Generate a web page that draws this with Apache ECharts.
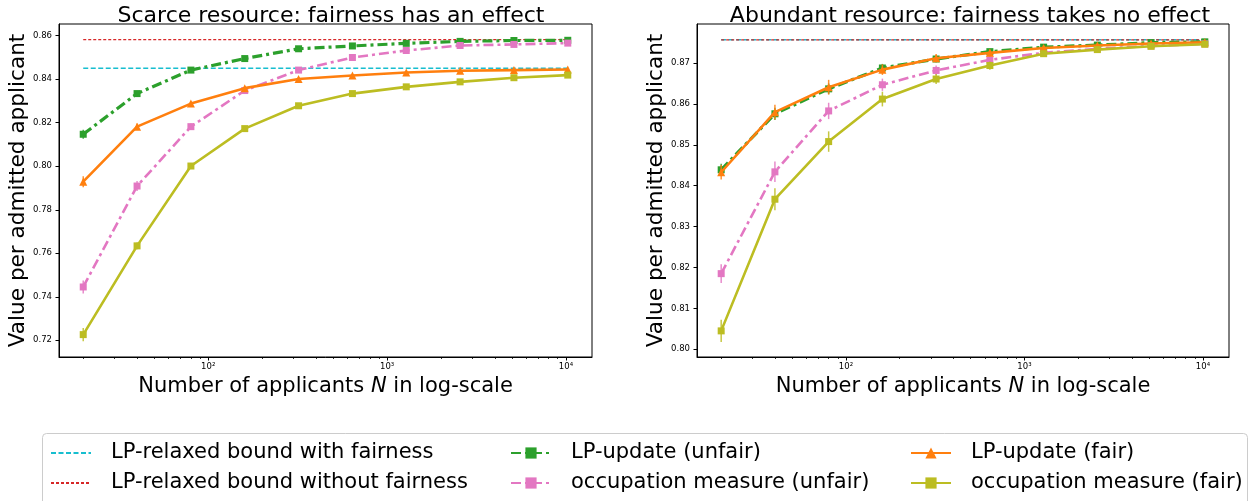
<!DOCTYPE html>
<html>
<head>
<meta charset="utf-8">
<script src="https://cdn.jsdelivr.net/npm/echarts@6/dist/echarts.min.js"></script>
<style>
html,body{margin:0;padding:0;background:#fff;}
#c{width:1250px;height:501px;}
</style>
</head>
<body>
<div id="c"></div>
<script>
// ---------- data ----------
const N = [20, 40, 80, 160, 320, 640, 1280, 2560, 5120, 10240];
const xMajorTicks = [100, 1000, 10000];
const xMinorTicks = [20, 30, 40, 50, 60, 70, 80, 90, 200, 300, 400, 500, 600, 700, 800, 900, 2000, 3000, 4000, 5000, 6000, 7000, 8000, 9000];
const yTicksScarce = [0.72, 0.74, 0.76, 0.78, 0.80, 0.82, 0.84, 0.86];
const yTicksAbundant = [0.80, 0.81, 0.82, 0.83, 0.84, 0.85, 0.86, 0.87];

const seriesNames = ['LP-relaxed bound with fairness', 'LP-relaxed bound without fairness', 'LP-update (unfair)', 'occupation measure (unfair)', 'LP-update (fair)', 'occupation measure (fair)'];

// Scarce resource panel
const scarceBoundFair = 0.845;
const scarceBoundUnfair = 0.8582;
const scarceLPUnfair  = [0.8147, 0.8334, 0.8442, 0.8495, 0.8540, 0.8553, 0.8565, 0.8574, 0.8578, 0.8579];
const scarceLPFair    = [0.7929, 0.8182, 0.8288, 0.8359, 0.8401, 0.8417, 0.8431, 0.8439, 0.8442, 0.8445];
const scarceOccUnfair = [0.7445, 0.7909, 0.8182, 0.8348, 0.8442, 0.8500, 0.8532, 0.8555, 0.8560, 0.8566];
const scarceOccFair   = [0.7226, 0.7634, 0.8001, 0.8173, 0.8278, 0.8334, 0.8365, 0.8388, 0.8407, 0.8419];
const scarceErrLPUnfair  = [0.0021, 0.0012, 0.0010, 0.0008, 0.0008, 0.0007, 0.0006, 0.0006, 0.0005, 0.0005];
const scarceErrLPFair    = [0.0025, 0.0015, 0.0010, 0.0008, 0.0008, 0.0007, 0.0006, 0.0005, 0.0005, 0.0005];
const scarceErrOccUnfair = [0.0030, 0.0023, 0.0015, 0.0012, 0.0010, 0.0008, 0.0007, 0.0006, 0.0006, 0.0005];
const scarceErrOccFair   = [0.0030, 0.0015, 0.0010, 0.0008, 0.0007, 0.0006, 0.0005, 0.0005, 0.0005, 0.0005];

// Abundant resource panel
const abundantBoundFair = 0.8757;
const abundantBoundUnfair = 0.8757;
const abundantLPUnfair  = [0.8439, 0.8576, 0.8637, 0.8688, 0.8710, 0.8728, 0.8739, 0.8744, 0.8750, 0.8752];
const abundantLPFair    = [0.8433, 0.8580, 0.8641, 0.8684, 0.8712, 0.8725, 0.8737, 0.8743, 0.8748, 0.8751];
const abundantOccUnfair = [0.8185, 0.8434, 0.8583, 0.8647, 0.8682, 0.8708, 0.8725, 0.8735, 0.8742, 0.8747];
const abundantOccFair   = [0.8045, 0.8367, 0.8508, 0.8612, 0.8661, 0.8694, 0.8723, 0.8733, 0.8741, 0.8746];
const abundantErrLPUnfair  = [0.0015, 0.0015, 0.0013, 0.0010, 0.0008, 0.0006, 0.0005, 0.0004, 0.0004, 0.0003];
const abundantErrLPFair    = [0.0018, 0.0018, 0.0018, 0.0013, 0.0010, 0.0008, 0.0006, 0.0005, 0.0004, 0.0003];
const abundantErrOccUnfair = [0.0023, 0.0025, 0.0020, 0.0015, 0.0012, 0.0009, 0.0007, 0.0005, 0.0004, 0.0004];
const abundantErrOccFair   = [0.0027, 0.0027, 0.0025, 0.0018, 0.0012, 0.0010, 0.0007, 0.0005, 0.0004, 0.0004];

// ---------- styles ----------
const FONT = 'DejaVu Sans';
const C = {
  cyan: '#17becf', red: '#d62728', green: '#2ca02c', pink: '#e377c2', orange: '#ff7f0e', olive: '#bcbd22'
};
const X_MIN = Math.pow(10, 1.16557);
const X_MAX = Math.pow(10, 4.14576);
const SUP = {2: '\u00b2', 3: '\u00b3', 4: '\u2074'};

function boundSeries(name, value, color, dash, width, gi) {
  return {
    name: name, type: 'line', xAxisIndex: gi, yAxisIndex: gi,
    data: [[N[0], value], [N[N.length - 1], value]],
    symbol: 'none', silent: true,
    lineStyle: {color: color, width: width, type: dash},
    itemStyle: {color: color}, z: 2
  };
}
function dataSeries(name, vals, color, lineType, width, symbol, size, gi, z) {
  return {
    name: name, type: 'line', xAxisIndex: gi, yAxisIndex: gi,
    data: N.map((n, i) => [n, vals[i]]),
    symbol: symbol, symbolSize: size, showSymbol: true,
    lineStyle: {color: color, width: width, type: lineType},
    itemStyle: {color: color},
    z: z
  };
}
function errSeries(vals, errs, color, gi, z) {
  return {
    type: 'custom', xAxisIndex: gi, yAxisIndex: gi, silent: true, z: z,
    data: N.map((n, i) => [n, vals[i], errs[i]]),
    encode: {x: 0, y: 1},
    renderItem: function (params, api) {
      const x = api.value(0), y = api.value(1), e = api.value(2);
      const p1 = api.coord([x, y - e]);
      const p2 = api.coord([x, y + e]);
      return {type: 'line', shape: {x1: p1[0], y1: p1[1], x2: p2[0], y2: p2[1]},
              style: {stroke: color, lineWidth: 1.5, opacity: 0.85}};
    }
  };
}
const DASHDOT = [10, 4, 3, 4];
function panelSeries(gi, bF, bU, lpU, lpF, ocU, ocF, eLU, eLF, eOU, eOF) {
  return [
    boundSeries(seriesNames[0], bF, C.cyan, [5, 2.5], 1.5, gi),
    boundSeries(seriesNames[1], bU, C.red, [3, 2], 1.3, gi),
    dataSeries(seriesNames[2], lpU, C.green, DASHDOT, 3.2, 'rect', 7, gi, 3),
    errSeries(lpU, eLU, C.green, gi, 3),
    dataSeries(seriesNames[3], ocU, C.pink, DASHDOT, 2.6, 'rect', 7, gi, 4),
    errSeries(ocU, eOU, C.pink, gi, 4),
    dataSeries(seriesNames[4], lpF, C.orange, 'solid', 2.6, 'triangle', 8, gi, 5),
    errSeries(lpF, eLF, C.orange, gi, 5),
    dataSeries(seriesNames[5], ocF, C.olive, 'solid', 2.6, 'rect', 7, gi, 6),
    errSeries(ocF, eOF, C.olive, gi, 6)
  ];
}

const grids = [
  {left: 59, top: 24, width: 533, height: 333},
  {left: 697, top: 24, width: 532, height: 333}
];

function majorX(gi) {
  return {
    type: 'log', gridIndex: gi, min: X_MIN, max: X_MAX, logBase: 10, position: 'bottom',
    axisLine: {show: true, onZero: false, lineStyle: {color: '#000', width: 1}},
    axisTick: {show: true, length: 3.5, customValues: xMajorTicks, lineStyle: {color: '#000', width: 1}},
    axisLabel: {customValues: xMajorTicks, margin: 5, fontFamily: FONT, fontSize: 8.5, color: '#000',
      formatter: function (v) { return '10' + SUP[Math.round(Math.log10(v))]; }},
    splitLine: {show: false}, minorTick: {show: false},
    name: 'Number of applicants {i|N} in log-scale', nameLocation: 'middle', nameGap: 17,
    nameTextStyle: {fontFamily: FONT, fontSize: 21, color: '#000',
      rich: {i: {fontFamily: FONT, fontSize: 21, fontStyle: 'italic', color: '#000'}}}
  };
}
function minorX(gi) {
  return {
    type: 'log', gridIndex: gi, min: X_MIN, max: X_MAX, logBase: 10, position: 'bottom',
    axisLine: {show: false},
    axisTick: {show: true, length: 2, customValues: xMinorTicks, lineStyle: {color: '#000', width: 0.8}},
    axisLabel: {show: false}, splitLine: {show: false}
  };
}
function yAx(gi, min, max, ticks) {
  return {
    type: 'value', gridIndex: gi, min: min, max: max,
    axisLine: {show: true, onZero: false, lineStyle: {color: '#000', width: 1}},
    axisTick: {show: true, length: 3.5, customValues: ticks, lineStyle: {color: '#000', width: 1}},
    axisLabel: {customValues: ticks, margin: 7, fontFamily: FONT, fontSize: 8.5, color: '#000',
      formatter: function (v) { return v.toFixed(2); }},
    splitLine: {show: false},
    name: 'Value per admitted applicant', nameLocation: 'middle', nameGap: 30,
    nameTextStyle: {fontFamily: FONT, fontSize: 21.6, color: '#000'}
  };
}

const legendCols = [50, 510, 910];
const legendRows = [442.5, 472.5];
const legends = seriesNames.map(function (name, k) {
  const col = Math.floor(k / 2), row = k % 2;
  const item = (k < 2) ? {name: name, itemStyle: {opacity: 0}} : {name: name};
  return {
    left: legendCols[col], top: legendRows[row], padding: 0,
    itemWidth: 40, itemHeight: 14, selectedMode: false,
    textStyle: {fontFamily: FONT, fontSize: 21, color: '#000', lineHeight: 21, padding: [0, 0, 0, 15]},
    data: [item]
  };
});

const option = {
  animation: false,
  backgroundColor: '#fff',
  title: [
    {text: 'Scarce resource: fairness has an effect', left: 326, top: 0, textAlign: 'center',
     textStyle: {fontFamily: FONT, fontSize: 22, fontWeight: 'normal', color: '#000'}},
    {text: 'Abundant resource: fairness takes no effect', left: 965, top: 0, textAlign: 'center',
     textStyle: {fontFamily: FONT, fontSize: 22, fontWeight: 'normal', color: '#000'}}
  ],
  legend: legends,
  grid: grids.map(g => Object.assign({show: true, borderColor: '#000', borderWidth: 1, backgroundColor: '#fff'}, g)),
  xAxis: [majorX(0), majorX(1), minorX(0), minorX(1)],
  yAxis: [yAx(0, 0.71231, 0.86539, yTicksScarce), yAx(1, 0.79811, 0.87956, yTicksAbundant)],
  graphic: [{
    type: 'rect', shape: {x: 42.5, y: 433.5, width: 1205, height: 80, r: 4},
    style: {fill: 'none', stroke: '#cccccc', lineWidth: 1}, z: -1, silent: true
  }],
  series: [].concat(
    panelSeries(0, scarceBoundFair, scarceBoundUnfair, scarceLPUnfair, scarceLPFair, scarceOccUnfair, scarceOccFair,
      scarceErrLPUnfair, scarceErrLPFair, scarceErrOccUnfair, scarceErrOccFair),
    panelSeries(1, abundantBoundFair, abundantBoundUnfair, abundantLPUnfair, abundantLPFair, abundantOccUnfair, abundantOccFair,
      abundantErrLPUnfair, abundantErrLPFair, abundantErrOccUnfair, abundantErrOccFair)
  )
};

const chart = echarts.init(document.getElementById('c'), null, {renderer: 'canvas'});
chart.setOption(option);
</script>
</body>
</html>
